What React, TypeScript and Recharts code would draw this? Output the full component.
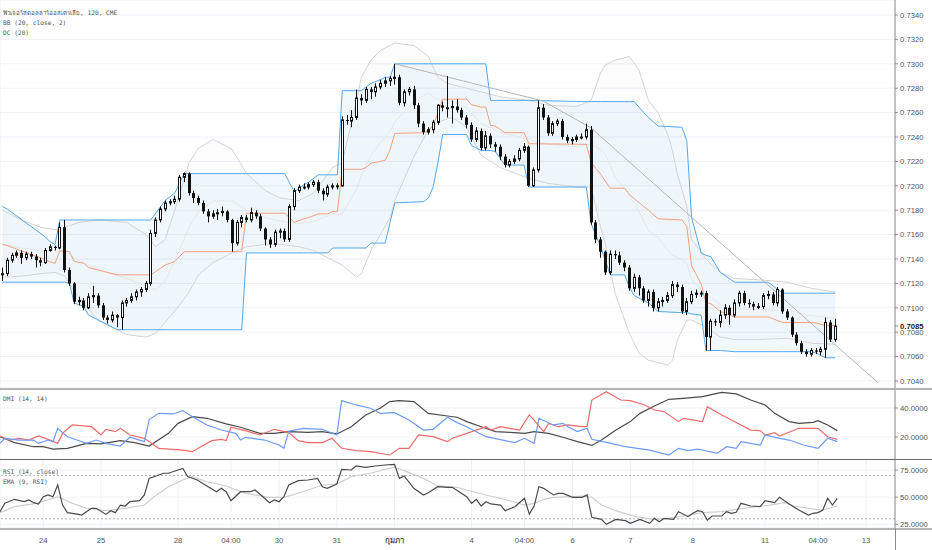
import React from "react";
import {
  Area,
  Bar,
  CartesianGrid,
  ComposedChart,
  Line,
  ReferenceLine,
  XAxis,
  YAxis,
} from "recharts";

// 120-minute bars, prices in pips (7128 -> 0.7128); open = previous close
const firstOpen = 7127;
const closes = [
  7128, 7139, 7143, 7145, 7141, 7144, 7142, 7139, 7137, 7147,
  7150, 7149, 7166, 7131, 7120, 7105, 7106, 7100, 7109, 7110,
  7102, 7092, 7090, 7094, 7092, 7104, 7106, 7109, 7113, 7115,
  7120, 7161, 7172, 7181, 7186, 7187, 7189, 7207, 7210, 7194,
  7190, 7186, 7179, 7175, 7177, 7178, 7179, 7172, 7153, 7170,
  7174, 7172, 7178, 7175, 7165, 7156, 7152, 7162, 7163, 7156,
  7183, 7196, 7199, 7199, 7201, 7203, 7196, 7193, 7199, 7200,
  7200, 7254, 7253, 7256, 7272, 7270, 7279, 7277, 7281, 7284,
  7286, 7288, 7289, 7268, 7277, 7279, 7266, 7251, 7244, 7246,
  7252, 7266, 7264, 7264, 7265, 7262, 7256, 7250, 7238, 7245,
  7231, 7241, 7234, 7232, 7224, 7217, 7220, 7222, 7229, 7232,
  7200, 7213, 7264, 7256, 7243, 7251, 7253, 7240, 7237, 7238,
  7240, 7240, 7246, 7170, 7156, 7146, 7129, 7144, 7143, 7137,
  7133, 7116, 7125, 7116, 7106, 7113, 7100, 7105, 7106, 7110,
  7119, 7117, 7097, 7105, 7111, 7112, 7112, 7076, 7089, 7088,
  7094, 7100, 7094, 7104, 7112, 7104, 7103, 7101, 7101, 7110,
  7111, 7104, 7115, 7097, 7092, 7078, 7071, 7064, 7062, 7065,
  7064, 7066, 7088, 7074, 7085,
];
const highs = [
  7133, 7141, 7145, 7147, 7147, 7146, 7146, 7144, 7141, 7149,
  7152, 7151, 7170, 7172, 7133, 7121, 7109, 7108, 7112, 7118,
  7112, 7104, 7094, 7097, 7095, 7106, 7108, 7112, 7115, 7117,
  7122, 7164, 7174, 7183, 7188, 7189, 7192, 7209, 7211, 7211,
  7196, 7192, 7188, 7181, 7180, 7181, 7183, 7180, 7173, 7172,
  7176, 7176, 7182, 7180, 7177, 7166, 7158, 7164, 7165, 7165,
  7185, 7198, 7201, 7202, 7203, 7205, 7205, 7198, 7201, 7202,
  7202, 7257, 7258, 7262, 7279, 7275, 7281, 7281, 7284, 7287,
  7289, 7290, 7300, 7291, 7279, 7281, 7282, 7268, 7253, 7248,
  7254, 7267, 7269, 7290, 7270, 7271, 7264, 7258, 7252, 7248,
  7247, 7245, 7243, 7236, 7234, 7226, 7222, 7225, 7231, 7235,
  7233, 7215, 7270, 7267, 7258, 7253, 7255, 7255, 7242, 7240,
  7242, 7243, 7251, 7249, 7172, 7158, 7147, 7147, 7147, 7146,
  7139, 7135, 7128, 7127, 7118, 7115, 7115, 7108, 7109, 7113,
  7122, 7121, 7119, 7108, 7114, 7115, 7114, 7114, 7091, 7091,
  7098, 7103, 7102, 7107, 7114, 7114, 7107, 7105, 7104, 7112,
  7114, 7113, 7117, 7116, 7099, 7093, 7080, 7073, 7066, 7067,
  7067, 7068, 7092, 7090, 7091,
];
const lows = [
  7122, 7126, 7137, 7141, 7136, 7139, 7140, 7133, 7134, 7136,
  7146, 7147, 7148, 7129, 7118, 7103, 7102, 7098, 7099, 7104,
  7100, 7090, 7087, 7088, 7084, 7082, 7101, 7104, 7106, 7109,
  7113, 7118, 7158, 7170, 7179, 7184, 7185, 7187, 7203, 7192,
  7186, 7184, 7177, 7170, 7173, 7172, 7175, 7170, 7146, 7151,
  7166, 7170, 7170, 7173, 7163, 7151, 7149, 7150, 7157, 7154,
  7154, 7180, 7194, 7197, 7197, 7199, 7194, 7188, 7191, 7197,
  7197, 7199, 7250, 7248, 7254, 7266, 7268, 7271, 7273, 7279,
  7281, 7282, 7283, 7266, 7265, 7274, 7263, 7248, 7242, 7242,
  7243, 7250, 7261, 7256, 7251, 7260, 7254, 7247, 7236, 7236,
  7229, 7229, 7231, 7228, 7221, 7215, 7215, 7218, 7220, 7227,
  7199, 7199, 7211, 7254, 7241, 7241, 7249, 7238, 7235, 7234,
  7236, 7238, 7238, 7168, 7153, 7141, 7127, 7127, 7140, 7135,
  7130, 7114, 7113, 7110, 7104, 7101, 7097, 7097, 7101, 7104,
  7108, 7113, 7095, 7094, 7103, 7108, 7109, 7065, 7065, 7085,
  7084, 7091, 7086, 7092, 7101, 7102, 7100, 7098, 7099, 7099,
  7107, 7102, 7101, 7095, 7090, 7076, 7069, 7062, 7060, 7060,
  7062, 7061, 7059, 7072, 7072,
];

// Donchian channel (20): [bar, upper, lower] in pips
const dcPts = [
  [0, 7183, 7121], [1, 7181, 7121], [9, 7158, 7121], [10, 7154, 7121],
  [11, 7152, 7121], [12, 7172, 7121], [13, 7172, 7121], [14, 7172, 7120],
  [15, 7172, 7104], [17, 7172, 7101], [18, 7172, 7094], [20, 7172, 7090],
  [22, 7172, 7086], [24, 7172, 7082], [31, 7172, 7082], [34, 7188, 7082],
  [36, 7194, 7082], [38, 7210, 7082], [50, 7210, 7082], [51, 7210, 7145],
  [59, 7210, 7145], [61, 7195, 7145], [63, 7201, 7145], [64, 7203, 7145],
  [66, 7209, 7145], [68, 7209, 7145], [69, 7209, 7149], [70, 7209, 7149],
  [71, 7278, 7149], [75, 7278, 7149], [76, 7281, 7149], [77, 7284, 7153],
  [79, 7287, 7153], [80, 7289, 7153], [81, 7289, 7170], [82, 7300, 7186],
  [88, 7300, 7187], [89, 7300, 7190], [90, 7300, 7199], [91, 7300, 7219],
  [92, 7300, 7242], [97, 7300, 7242], [98, 7300, 7233], [100, 7300, 7229],
  [101, 7300, 7229], [102, 7270, 7229], [103, 7270, 7228], [105, 7270, 7217],
  [109, 7270, 7217], [110, 7270, 7199], [122, 7269, 7199], [123, 7269, 7169],
  [125, 7269, 7150], [127, 7269, 7127], [130, 7269, 7127], [131, 7269, 7117],
  [132, 7269, 7110], [134, 7260, 7106], [135, 7256, 7104], [137, 7249, 7097],
  [142, 7248, 7096], [143, 7237, 7096], [144, 7174, 7095], [146, 7145, 7094],
  [147, 7143, 7065], [148, 7142, 7065], [150, 7129, 7065], [153, 7121, 7064],
  [160, 7121, 7064], [163, 7112, 7064], [169, 7112, 7064], [170, 7112, 7063],
  [172, 7112, 7059], [174, 7112, 7059],
];

// Bollinger bands (20, 2): [bar, upper, lower] in pips
const bbPts = [
  [0, 7180, 7125], [4, 7172, 7126], [8, 7166, 7128], [11, 7164, 7129],
  [13, 7166, 7126], [16, 7170, 7108], [20, 7172, 7090], [26, 7170, 7078],
  [30, 7160, 7076], [32, 7150, 7079], [34, 7156, 7088], [37, 7192, 7102],
  [39, 7219, 7113], [41, 7231, 7127], [44, 7238, 7137], [48, 7230, 7145],
  [51, 7210, 7150], [55, 7196, 7152], [58, 7190, 7152], [62, 7188, 7150],
  [65, 7194, 7147], [69, 7215, 7139], [71, 7219, 7135], [74, 7270, 7125],
  [75, 7289, 7128], [77, 7303, 7147], [79, 7311, 7160], [81, 7315, 7174],
  [82, 7317, 7188], [86, 7315, 7224], [89, 7306, 7246], [91, 7289, 7252],
  [93, 7284, 7255], [94, 7283, 7256], [97, 7280, 7248], [100, 7277, 7225],
  [104, 7273, 7215], [110, 7270, 7206], [114, 7266, 7202], [120, 7265, 7199],
  [123, 7270, 7199], [125, 7293, 7166], [126, 7299, 7152], [128, 7303, 7112],
  [131, 7306, 7079], [133, 7295, 7063], [135, 7270, 7057], [137, 7260, 7055],
  [139, 7242, 7053], [140, 7229, 7057], [141, 7210, 7073], [143, 7183, 7090],
  [144, 7156, 7090], [147, 7140, 7084], [150, 7129, 7076], [153, 7124, 7074],
  [158, 7123, 7074], [164, 7121, 7075], [169, 7116, 7071], [174, 7113, 7070],
];

// DMI (14, 14): [bar, value]
const plusDI = [
  [0, 15.6], [1, 19.1], [4, 17.9], [7, 17.9], [8, 15.6], [10, 17.9], [11, 16.8],
  [12, 26.0], [14, 20.2], [16, 17.9], [18, 15.6], [20, 17.9], [22, 15.6], [25, 13.8],
  [27, 19.8], [30, 16.8], [31, 32.0], [33, 36.3], [36, 35.9], [38, 38.2], [40, 34.0],
  [43, 28.3], [46, 24.8], [49, 22.5], [50, 17.9], [51, 19.8], [55, 17.9], [58, 14.5],
  [59, 12.2], [60, 24.0], [63, 26.0], [67, 25.3], [70, 21.4], [71, 45.1], [74, 42.1],
  [77, 39.8], [79, 36.3], [82, 36.8], [85, 31.7], [88, 24.8], [90, 25.3], [93, 33.6],
  [95, 29.9], [97, 27.1], [101, 20.2], [107, 16.1], [109, 19.1], [111, 15.6], [112, 32.9],
  [115, 28.3], [117, 29.4], [118, 27.1], [120, 23.7], [122, 26.0], [123, 18.4], [127, 15.6],
  [130, 13.3], [135, 11.0], [139, 7.6], [141, 12.2], [143, 10.6], [145, 11.7], [149, 8.7],
  [151, 13.3], [153, 12.2], [154, 16.8], [158, 14.5], [159, 21.4], [162, 19.1], [164, 17.9],
  [167, 14.5], [170, 12.2], [172, 19.1], [174, 16.8],
];
const minusDI = [
  [0, 20.7], [2, 17.9], [4, 19.1], [6, 17.9], [8, 20.7], [10, 18.4], [12, 15.6],
  [13, 22.5], [15, 28.3], [19, 27.1], [21, 21.4], [22, 25.3], [24, 23.7], [25, 26.0],
  [27, 21.4], [30, 19.1], [32, 14.5], [33, 12.2], [38, 11.0], [40, 9.9], [42, 13.8],
  [44, 17.5], [46, 18.4], [47, 17.5], [48, 26.7], [51, 24.4], [54, 21.4], [57, 25.3],
  [60, 23.0], [62, 17.5], [64, 16.1], [67, 16.1], [69, 19.1], [71, 12.2], [74, 10.6],
  [77, 9.9], [81, 7.6], [83, 12.2], [85, 12.2], [87, 21.4], [90, 20.2], [93, 16.8],
  [94, 19.1], [97, 22.5], [101, 27.1], [102, 24.8], [104, 27.1], [108, 24.8], [110, 35.2],
  [111, 31.7], [113, 23.7], [114, 29.4], [116, 27.1], [118, 28.3], [121, 27.1], [122, 27.1],
  [123, 45.5], [126, 51.3], [129, 45.5], [131, 45.1], [134, 42.1], [136, 38.6], [138, 37.5],
  [141, 30.6], [142, 32.9], [146, 30.6], [147, 40.9], [150, 35.2], [152, 31.7], [156, 24.8],
  [158, 24.4], [159, 21.4], [161, 23.0], [162, 20.7], [166, 26.0], [170, 26.0], [172, 20.2],
  [174, 18.4],
];
const adx = [
  [0, 20.2], [3, 16.1], [7, 13.3], [9, 13.3], [11, 11.7], [14, 12.2], [18, 15.6],
  [21, 15.2], [25, 17.5], [28, 16.1], [31, 13.8], [35, 22.5], [37, 29.4], [40, 34.0],
  [43, 32.9], [47, 29.0], [50, 26.7], [54, 22.5], [57, 22.5], [60, 23.7], [64, 23.2],
  [67, 23.7], [70, 22.1], [73, 27.1], [76, 35.2], [79, 39.8], [81, 44.4], [83, 45.1],
  [86, 44.4], [89, 36.3], [93, 34.5], [95, 33.6], [97, 30.6], [100, 27.1], [103, 23.7],
  [106, 23.2], [109, 22.5], [111, 23.7], [114, 22.5], [117, 19.8], [120, 16.8], [123, 14.2],
  [125, 17.9], [128, 24.8], [131, 30.6], [133, 36.3], [136, 41.4], [139, 46.0], [142, 46.7],
  [146, 47.8], [149, 50.1], [150, 50.8], [153, 49.7], [156, 45.5], [159, 42.1], [161, 36.3],
  [164, 30.6], [166, 29.4], [169, 30.1], [170, 31.3], [172, 28.3], [174, 24.4],
];

// RSI (14, close) and its EMA (9)
const rsi = [
  [0, 36.6], [1, 44.3], [3, 48.0], [5, 45.8], [6, 47.4], [7, 44.9], [8, 43.7],
  [9, 50.4], [10, 52.0], [11, 50.4], [12, 61.2], [13, 42.7], [14, 35.7], [16, 34.4],
  [17, 33.5], [19, 39.7], [20, 39.7], [22, 34.1], [23, 37.5], [24, 35.7], [25, 42.7],
  [26, 41.8], [27, 45.8], [29, 46.7], [30, 52.0], [31, 67.3], [33, 70.4], [34, 72.0],
  [35, 72.0], [37, 75.0], [38, 76.5], [39, 68.9], [41, 65.8], [43, 60.3], [45, 55.0],
  [46, 58.1], [47, 55.0], [48, 46.7], [50, 55.0], [52, 55.0], [53, 56.6], [55, 48.9],
  [56, 44.9], [57, 47.4], [58, 45.8], [59, 50.4], [60, 61.2], [62, 65.2], [64, 65.8],
  [66, 67.3], [67, 59.6], [68, 58.1], [70, 62.1], [71, 75.6], [73, 75.0], [74, 78.7],
  [76, 77.5], [78, 78.7], [80, 79.6], [82, 80.2], [83, 67.3], [84, 69.5], [86, 58.1],
  [88, 52.0], [89, 54.1], [91, 59.6], [93, 59.0], [94, 59.0], [97, 50.4], [98, 44.3],
  [99, 48.0], [100, 41.8], [101, 45.8], [102, 43.7], [104, 42.7], [105, 37.5], [107, 41.2],
  [109, 48.9], [110, 34.4], [111, 41.8], [112, 59.6], [113, 58.1], [115, 52.0], [116, 53.5],
  [117, 53.5], [119, 49.8], [121, 49.8], [122, 52.0], [123, 31.4], [125, 29.5], [126, 24.9],
  [128, 29.5], [130, 28.3], [131, 25.8], [133, 29.5], [135, 25.8], [136, 30.4], [137, 27.4],
  [138, 30.4], [140, 29.5], [141, 36.6], [143, 32.0], [144, 35.1], [145, 37.5], [146, 36.6],
  [147, 28.9], [148, 32.6], [150, 32.6], [151, 36.6], [152, 35.1], [153, 36.0], [154, 44.3],
  [156, 41.8], [158, 41.2], [159, 46.7], [160, 45.8], [161, 44.9], [162, 49.8], [164, 43.7],
  [166, 38.1], [168, 33.5], [169, 35.1], [170, 35.7], [171, 38.1], [172, 48.9], [173, 42.7],
  [174, 48.9],
];
const rsiEma = [
  [0, 35.7], [3, 41.2], [7, 43.7], [10, 47.4], [12, 50.4], [15, 44.3], [18, 39.7],
  [22, 37.5], [26, 39.7], [30, 42.7], [32, 50.4], [35, 59.6], [38, 65.8], [40, 68.9],
  [43, 64.2], [47, 60.3], [51, 53.5], [56, 49.8], [59, 49.8], [63, 55.0], [67, 61.2],
  [70, 62.1], [73, 68.9], [77, 72.0], [80, 75.6], [82, 77.5], [84, 74.4], [88, 67.3],
  [91, 60.3], [95, 59.0], [97, 56.6], [101, 52.0], [106, 46.7], [109, 42.7], [111, 44.3],
  [113, 48.0], [115, 49.8], [118, 50.4], [121, 51.0], [123, 49.8], [125, 42.7], [128, 37.5],
  [132, 32.0], [136, 29.5], [139, 30.4], [143, 33.5], [146, 35.7], [150, 36.6], [153, 38.7],
  [156, 40.6], [160, 42.7], [163, 44.9], [165, 41.8], [168, 39.7], [171, 38.1], [174, 41.8],
];

// hand-drawn trend line: [bar, price in pips]
const trendPts = [[82, 7300], [113, 7269.5], [123, 7247.4], [183, 7038.4]];
const lastPrice = 0.7085;

const timeTicks: [number, string][] = [
  [9, "24"], [21, "25"], [37, "28"], [48, "04:00"], [58, "30"], [70, "31"],
  [82, "กุมภา"], [98, "4"], [109, "04:00"], [119, "6"], [131, "7"], [144, "8"],
  [159, "11"], [170, "04:00"], [180, "13"],
];
const monthLabels = ["กุมภา"];
const priceTicks = [0.704, 0.706, 0.708, 0.71, 0.712, 0.714, 0.716, 0.718, 0.72, 0.722, 0.724, 0.726, 0.728, 0.73, 0.732, 0.734];

const SLOTS = 187; // 175 bars plus empty space on the right
const pip = (v: number) => v / 10000;

const rows: any[] = Array.from({ length: SLOTS }, (_, i) => ({ i }));
closes.forEach((c, i) => {
  rows[i].o = pip(i === 0 ? firstOpen : closes[i - 1]);
  rows[i].c = pip(c);
  rows[i].h = pip(highs[i]);
  rows[i].l = pip(lows[i]);
});
dcPts.forEach(([i, u, l]) =>
  Object.assign(rows[i], { dcU: pip(u), dcL: pip(l), dcM: pip((u + l) / 2), dcBand: [pip(l), pip(u)] })
);
bbPts.forEach(([i, u, l]) =>
  Object.assign(rows[i], { bbU: pip(u), bbL: pip(l), bbM: pip((u + l) / 2), bbBand: [pip(l), pip(u)] })
);
const put = (key: string, pts: number[][]) => pts.forEach(([i, v]) => { rows[i][key] = v; });
put("pdi", plusDI);
put("mdi", minusDI);
put("adx", adx);
put("rsi", rsi);
put("ema", rsiEma);

const tickIdx = timeTicks.map((t) => t[0]);
const tickText = new Map(timeTicks);

const GRID = "#edf1f7";
const AXIS = "#8c8c8c";
const TXT = "#555";
const FS = 7.7;
const W = 932;
const margin = { top: 0, right: 0, bottom: 0, left: 0 };

function Candle(props: any) {
  const { x, y, width, height, payload } = props;
  if (!payload || payload.h == null) return null;
  const { o, c, h, l } = payload;
  const k = h > l ? height / (h - l) : 0;
  const top = y + (h - Math.max(o, c)) * k;
  const bot = y + (h - Math.min(o, c)) * k;
  const left = Math.round(x + width / 2 - 1.5);
  const mid = left + 1.5;
  const body = Math.max(bot - top, 1);
  return (
    <g>
      <line x1={mid} x2={mid} y1={y} y2={y + height} stroke="#111" strokeWidth={1} />
      {c >= o ? (
        <rect x={left + 0.5} y={top} width={2} height={body} fill="#fff" stroke="#111" strokeWidth={1} />
      ) : (
        <rect x={left} y={top} width={3} height={body} fill="#111" />
      )}
    </g>
  );
}

function LastPriceTag(props: any) {
  const vb = props.viewBox || {};
  const x = vb.x + vb.width;
  const y = vb.y;
  return (
    <g>
      <rect x={x + 1} y={y - 5} width={36} height={9} fill="#fff" />
      <line x1={x} x2={x + 3} y1={y} y2={y} stroke={AXIS} />
      <text x={x + 5} y={y} dy="0.355em" fontSize={FS} fontWeight={700} fill="#222">
        {lastPrice.toFixed(4)}
      </text>
    </g>
  );
}

function TimeTick(props: any) {
  const { x, y, payload } = props;
  const label = tickText.get(payload.value) ?? "";
  return (
    <text
      x={x}
      y={y}
      dy="0.71em"
      textAnchor="middle"
      fontSize={FS}
      fill={TXT}
      fontWeight={monthLabels.includes(label) ? 700 : 400}
    >
      {label}
    </text>
  );
}

const gridXAxis = (
  <XAxis dataKey="i" type="category" ticks={tickIdx} interval={0} height={0} tick={false} axisLine={false} tickLine={false} />
);

function rightAxis(domain: number[], ticks: number[], fmt: (v: number) => string) {
  return (
    <YAxis
      orientation="right"
      width={37}
      domain={domain}
      ticks={ticks}
      interval={0}
      allowDataOverflow
      tickFormatter={fmt}
      tick={{ fill: TXT, fontSize: FS }}
      tickSize={3}
      tickMargin={2}
      axisLine={{ stroke: AXIS }}
      tickLine={{ stroke: AXIS }}
    />
  );
}

function series(key: string, color: string, width = 1) {
  return (
    <Line
      dataKey={key}
      connectNulls
      dot={false}
      activeDot={false}
      stroke={color}
      strokeWidth={width}
      isAnimationActive={false}
    />
  );
}

const candleRange = (d: any) => (d.h == null ? null : [d.l, d.h]);

const paneLabel: React.CSSProperties = {
  position: "absolute",
  left: 3,
  fontFamily: "'DejaVu Sans Mono', monospace",
  fontSize: 6.2,
  lineHeight: "10px",
  color: TXT,
  whiteSpace: "pre",
};

export default function App() {
  return (
    <div
      style={{
        position: "absolute",
        left: 0,
        top: 0,
        width: W,
        height: 550,
        background: "#fff",
        overflow: "hidden",
        fontFamily: "'Liberation Sans', Arial, sans-serif",
      }}
    >
      <div style={{ position: "absolute", left: 0, top: 0 }}>
        <ComposedChart width={W} height={388} data={rows} margin={margin}>
          <CartesianGrid stroke={GRID} />
          {gridXAxis}
          {rightAxis([0.703426, 0.73523], priceTicks, (v) => v.toFixed(4))}
          <Area dataKey="bbBand" connectNulls fill="#9e9e9e" fillOpacity={0.035} stroke="none" activeDot={false} isAnimationActive={false} />
          <Area dataKey="dcBand" connectNulls fill="#2196f3" fillOpacity={0.06} stroke="none" activeDot={false} isAnimationActive={false} />
          {series("bbM", "#e6e6e6")}
          {series("bbU", "#d4d4d4")}
          {series("bbL", "#d4d4d4")}
          {series("dcM", "#f4a07c")}
          {series("dcU", "#55a8ec")}
          {series("dcL", "#55a8ec")}
          <Bar dataKey={candleRange} barSize={3} shape={<Candle />} isAnimationActive={false} zIndex={450} />
          {trendPts.slice(1).map((p, k) => (
            <ReferenceLine
              key={k}
              segment={[
                { x: trendPts[k][0], y: pip(trendPts[k][1]) },
                { x: p[0], y: pip(p[1]) },
              ]}
              stroke="#b5b5b5"
              strokeWidth={1}
              ifOverflow="visible"
            />
          ))}
          <ReferenceLine y={lastPrice} stroke="none" label={<LastPriceTag />} />
        </ComposedChart>
      </div>
      <div style={{ position: "absolute", left: 0, top: 388, width: W, height: 2, background: "#b4b4b4" }} />

      <div style={{ position: "absolute", left: 0, top: 390 }}>
        <ComposedChart width={W} height={69} data={rows} margin={margin}>
          <CartesianGrid stroke={GRID} />
          {gridXAxis}
          {rightAxis([4.83, 52.41], [20, 40], (v) => v.toFixed(4))}
          {series("adx", "#4a4a4a", 1.2)}
          {series("mdi", "#f26b6b", 1.2)}
          {series("pdi", "#6e9af3", 1.2)}
        </ComposedChart>
      </div>
      <div style={{ position: "absolute", left: 0, top: 459, width: W, height: 1, background: "#6b6b6b" }} />

      <div style={{ position: "absolute", left: 0, top: 460 }}>
        <ComposedChart width={W} height={90} data={rows} margin={margin}>
          <CartesianGrid stroke={GRID} />
          <XAxis
            dataKey="i"
            type="category"
            ticks={tickIdx}
            interval={0}
            height={22}
            axisLine={false}
            tickLine={false}
            tickSize={0}
            tickMargin={10}
            tick={<TimeTick />}
          />
          {rightAxis([21.55, 84.22], [25, 50, 75], (v) => v.toFixed(4))}
          <ReferenceLine y={70} stroke="#b0b0b0" strokeDasharray="2 2" />
          <ReferenceLine y={30} stroke="#b0b0b0" strokeDasharray="2 2" />
          {series("ema", "#cfcfcf", 1.2)}
          {series("rsi", "#4a4a4a", 1.2)}
        </ComposedChart>
      </div>
      <div style={{ position: "absolute", left: 0, top: 528, width: W, height: 2, background: "#b4b4b4" }} />
      <div style={{ position: "absolute", left: 895, top: 528, width: 1, height: 22, background: AXIS }} />

      <div style={{ ...paneLabel, top: 8 }}>
        {"ฟิวเจอร์สดอลลาร์ออสเตรเลีย, 120, CME\nBB (20, close, 2)\nDC (20)"}
      </div>
      <div style={{ ...paneLabel, top: 394 }}>{"DMI (14, 14)"}</div>
      <div style={{ ...paneLabel, top: 467 }}>{"RSI (14, close)\nEMA (9, RSI)"}</div>
    </div>
  );
}
